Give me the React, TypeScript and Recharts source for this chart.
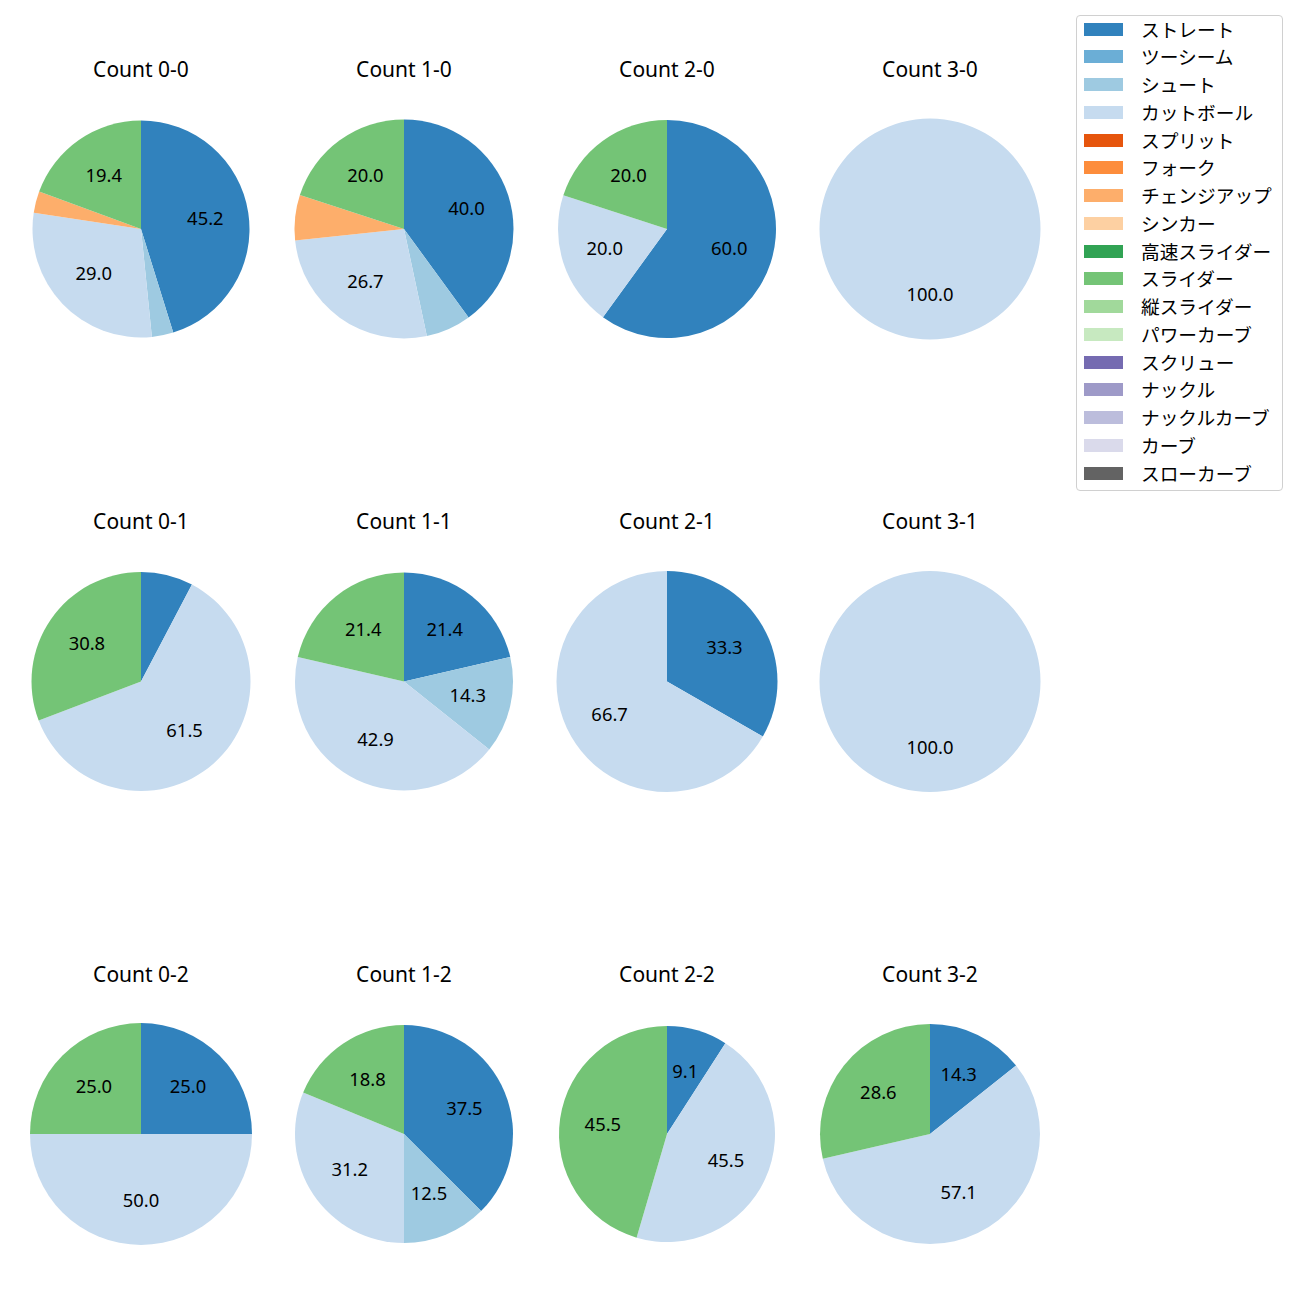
import { PieChart, Pie, Cell } from "recharts";

const FONT = '"Noto Sans", "Noto Sans CJK JP", sans-serif';
const JP_FONT = '"Noto Sans CJK JP", "Noto Sans", sans-serif';

const PITCHES = [
	"ストレート", "ツーシーム", "シュート", "カットボール", "スプリット", "フォーク",
	"チェンジアップ", "シンカー", "高速スライダー", "スライダー", "縦スライダー",
	"パワーカーブ", "スクリュー", "ナックル", "ナックルカーブ", "カーブ", "スローカーブ",
];
const COLORS = [
	"#3182bd", "#6baed6", "#9ecae1", "#c6dbef", "#e6550d", "#fd8d3c",
	"#fdae6b", "#fdd0a2", "#31a354", "#74c476", "#a1d99b",
	"#c7e9c0", "#756bb1", "#9e9ac8", "#bcbddc", "#dadaeb", "#636363",
];

// panel order: 0-0 1-0 2-0 3-0 / 0-1 1-1 2-1 3-1 / 0-2 1-2 2-2 3-2
const COUNTS = ["0-0", "1-0", "2-0", "3-0", "0-1", "1-1", "2-1", "3-1", "0-2", "1-2", "2-2", "3-2"];
const straight = [45.2, 40.0, 60.0, 0, 7.7, 21.4, 33.3, 0, 25.0, 37.5, 9.1, 14.3];
const shoot = [3.2, 6.7, 0, 0, 0, 14.3, 0, 0, 0, 12.5, 0, 0];
const cutter = [29.0, 26.7, 20.0, 100, 61.5, 42.9, 66.7, 100, 50.0, 31.2, 45.5, 57.1];
const changeup = [3.2, 6.7, 0, 0, 0, 0, 0, 0, 0, 0, 0, 0];
const slider = [19.4, 20.0, 20.0, 0, 30.8, 21.4, 0, 0, 25.0, 18.8, 45.5, 28.6];

const SERIES: Record<string, number[]> = {
	ストレート: straight,
	シュート: shoot,
	カットボール: cutter,
	チェンジアップ: changeup,
	スライダー: slider,
};

// layout
const COL_X = [141, 404, 667, 930];
const ROW_Y = [229, 681.5, 1134];
const RADII = [108.5, 109.5, 109, 110.5, 109.5, 109, 110.5, 110.5, 111, 109, 108, 110];

function panelData(p: number) {
	return PITCHES.map((name, i) => ({
		name,
		value: SERIES[name] ? SERIES[name][p] : 0,
		color: COLORS[i],
	})).filter((d) => d.value > 0);
}

function renderLabel(props: any) {
	const { cx, cy, midAngle, outerRadius } = props;
	const value = props.value ?? props.payload?.value;
	if (value < 8) return <g />;
	const r = outerRadius * 0.6;
	const a = (-midAngle * Math.PI) / 180;
	return (
		<text
			x={cx + r * Math.cos(a)}
			y={cy + r * Math.sin(a) - 1.5}
			textAnchor="middle"
			dominantBaseline="central"
			fontSize={18.4}
			fill="#000"
			fontFamily={FONT}
		>
			{value.toFixed(1)}
		</text>
	);
}

export default function App() {
	return (
		<div style={{ position: "absolute", left: 0, top: 0, width: 1300, height: 1300, background: "#fff", fontFamily: FONT }}>
			<PieChart
				width={1300}
				height={1300}
				margin={{ top: 0, right: 0, bottom: 0, left: 0 }}
				style={{ position: "absolute", left: 0, top: 0 }}
			>
				{COUNTS.map((c, p) => (
					<Pie
						key={c}
						data={panelData(p)}
						dataKey="value"
						nameKey="name"
						cx={COL_X[p % 4]}
						cy={ROW_Y[Math.floor(p / 4)]}
						outerRadius={RADII[p]}
						startAngle={90}
						endAngle={-270}
						stroke="none"
						label={renderLabel}
						labelLine={false}
						isAnimationActive={false}
					>
						{panelData(p).map((d) => (
							<Cell key={d.name} fill={d.color} />
						))}
					</Pie>
				))}
			</PieChart>
			{COUNTS.map((c, p) => (
				<div
					key={c}
					style={{
						position: "absolute",
						left: COL_X[p % 4] - 100,
						top: ROW_Y[Math.floor(p / 4)] - 160.5 - 15,
						width: 200,
						height: 30,
						lineHeight: "30px",
						textAlign: "center",
						fontSize: 21,
						color: "#000",
					}}
				>
					Count {c}
				</div>
			))}
			<div
				style={{
					position: "absolute",
					left: 1076,
					top: 15,
					width: 205,
					height: 474,
					border: "1px solid #d0d0d0",
					borderRadius: 4,
					background: "#fff",
				}}
			>
				{PITCHES.map((name, i) => (
					<div
						key={name}
						style={{
							position: "absolute",
							left: 0,
							top: -1.5 + i * 27.75,
							height: 28,
							width: 205,
						}}
					>
						<span
							style={{
								position: "absolute",
								left: 7,
								top: 8,
								width: 39,
								height: 13,
								background: COLORS[i],
							}}
						/>
						<span
							style={{
								position: "absolute",
								left: 64,
								top: 0,
								lineHeight: "28px",
								fontSize: 18.7,
								fontFamily: JP_FONT,
								color: "#000",
								whiteSpace: "nowrap",
							}}
						>
							{name}
						</span>
					</div>
				))}
			</div>
		</div>
	);
}
